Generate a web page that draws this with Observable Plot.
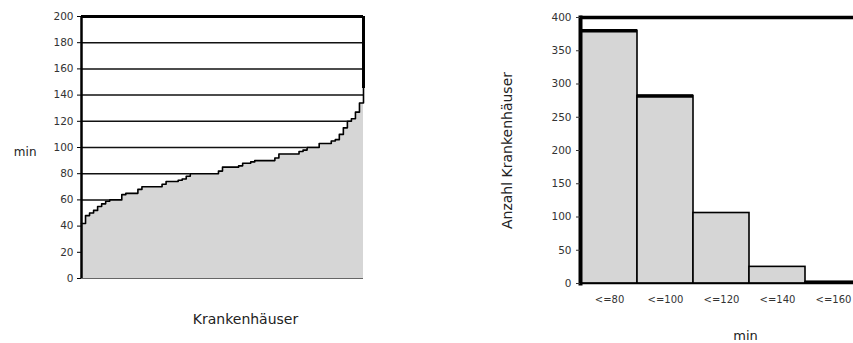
<!DOCTYPE html>
<html><head><meta charset="utf-8">
<script src="https://cdn.jsdelivr.net/npm/d3@7"></script>
<script src="https://cdn.jsdelivr.net/npm/@observablehq/plot@0.6"></script>
<style>
html,body{margin:0;padding:0;background:#fff;overflow:hidden;width:853px;height:343px;}
#left{position:absolute;left:0;top:0;width:420px;height:343px;}
#right{position:absolute;left:470px;top:0;width:400px;height:343px;}
svg{max-width:none !important;}
</style></head><body>
<div id="left"></div><div id="right"></div>
<script>
// Left chart: minutes per hospital, sorted (one value per sampled hospital rank)
const waitTimes = [42,48,50,52,55,57,59,60,60,60,64,65,65,65,68,70,70,70,70,70,
  72,74,74,74,75,76,78,80,80,80,80,80,80,80,82,85,85,85,85,86,
  88,88,89,90,90,90,90,90,92,95,95,95,95,95,97,98,100,100,100,103,
  103,103,105,106,110,115,120,122,127,134,145];
const yTicksLeft = [0,20,40,60,80,100,120,140,160,180,200];

// Right chart: number of hospitals per class
const binLabels = ["<=80","<=100","<=120","<=140","<=160"];
const binCounts = [380,282,106,25,2];
const yTicksRight = [0,50,100,150,200,250,300,350,400];

const font = "'DejaVu Sans', sans-serif";
const hosp = waitTimes.map((v, i) => ({i, v}));
const n = waitTimes.length;
const bins = binLabels.map((label, k) => ({label, count: binCounts[k]}));

const left = Plot.plot({
  width: 420, height: 343,
  marginLeft: 81, marginRight: 57, marginTop: 16, marginBottom: 65,
  style: {fontFamily: font, fontSize: "10.5px", color: "#333", background: "#fff", maxWidth: "none"},
  x: {domain: [0, n - 1], axis: null},
  y: {domain: [0, 200], axis: null},
  marks: [
    Plot.ruleY(yTicksLeft.filter(t => t > 0 && t < 200), {stroke: "#111", strokeWidth: 1.5}),
    Plot.areaY(hosp, {x: "i", y: "v", curve: "step-after", fill: "#d6d6d6"}),
    Plot.lineY(hosp, {x: "i", y: "v", curve: "step-after", stroke: "#000", strokeWidth: 1.6}),
    Plot.ruleY([0], {stroke: "#666", strokeWidth: 1.2}),
    Plot.ruleY([200], {stroke: "#000", strokeWidth: 3}),
    Plot.ruleX([{i: n - 1, v: waitTimes[n - 1]}], {x: "i", y1: "v", y2: 200, stroke: "#000", strokeWidth: 3}),
    Plot.axisY({ticks: yTicksLeft, tickSize: 4, tickPadding: 4, label: null, stroke: "#000", fill: "#333"}),
    Plot.ruleX([0], {stroke: "#000", strokeWidth: 2.5}),
    Plot.text(["min"], {text: d => d, frameAnchor: "left", dx: -45, dy: 5, textAnchor: "end", fontSize: 12, fill: "#222"}),
    Plot.text(["Krankenhäuser"], {text: d => d, frameAnchor: "bottom", dx: 23, dy: 45, lineAnchor: "bottom", fontSize: 14, fill: "#222"})
  ]
});
document.getElementById("left").append(left);

const right = Plot.plot({
  width: 400, height: 343,
  marginLeft: 110, marginRight: 8, marginTop: 17, marginBottom: 60,
  style: {fontFamily: font, fontSize: "10.5px", color: "#333", background: "#fff", maxWidth: "none"},
  x: {domain: binLabels, padding: 0, axis: null},
  y: {domain: [0, 400], axis: null},
  marks: [
    Plot.barY(bins, {x: "label", y: "count", fill: "#d6d6d6", stroke: "#000", strokeWidth: 1.6}),
    Plot.tickY(bins.filter((d, k) => k < 2 || k === 4), {x: "label", y: "count", stroke: "#000", strokeWidth: 3.5}),
    Plot.ruleY([400], {stroke: "#000", strokeWidth: 3.5}),
    Plot.ruleY([0], {stroke: "#000", strokeWidth: 1.6}),
    Plot.frame({anchor: "left", stroke: "#000", strokeWidth: 4}),
    Plot.axisY({ticks: yTicksRight, tickSize: 4, tickPadding: 5, label: null, fill: "#333"}),
    Plot.axisX({tickSize: 0, tickPadding: 12, label: null, fontSize: 10, fill: "#333"}),
    Plot.text(["Anzahl Krankenhäuser"], {text: d => d, frameAnchor: "left", dx: -73, rotate: -90, textAnchor: "middle", fontSize: 14, fill: "#222"}),
    Plot.text(["min"], {text: d => d, frameAnchor: "bottom", dx: 24, dy: 56, lineAnchor: "bottom", fontSize: 13, fill: "#222"})
  ]
});
document.getElementById("right").append(right);
</script>
</body></html>
